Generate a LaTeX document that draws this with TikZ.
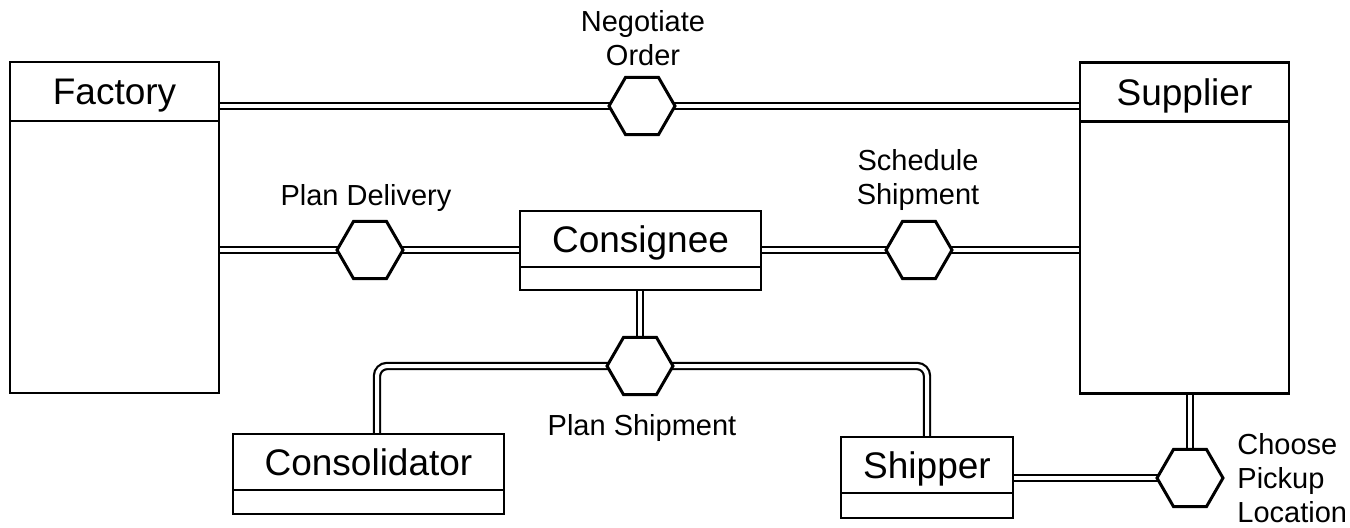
\documentclass[tikz,border=0pt]{standalone}
\usepackage{fontspec}
\setmainfont{Liberation Sans}
\usetikzlibrary{shapes.geometric,positioning,backgrounds}

\tikzset{
  chead/.style={draw, line width=1.4pt, inner sep=0pt, outer sep=0pt, minimum height=28pt,
    font=\fontsize{18.5}{22}\selectfont, text height=13.3pt, text depth=0pt},
  cbody/.style={draw, line width=1.4pt, inner sep=0pt, outer sep=0pt, below=0pt of #1},
  hexa/.style={draw, fill=white, line width=1.5pt, regular polygon,
    regular polygon sides=6, minimum size=33pt, inner sep=0pt, outer sep=0pt},
  assoc/.style={double, line width=1.1pt, double distance=2pt},
  lbl/.style={font=\fontsize{14.5}{17}\selectfont, inner sep=0pt, align=center}
}

\begin{document}
\begin{tikzpicture}[x=0.5pt,y=-0.5pt]
\useasboundingbox (0,0) rectangle (1350,527);

\node[chead, minimum width=104.5pt, minimum height=29.5pt] (fhead) at (114.5,91.5) {Factory};
\node[cbody=fhead, minimum width=104.5pt, minimum height=136pt] (fbody) {};
\node[chead, minimum width=104.5pt, minimum height=29.5pt] (suhead) at (1184.5,92) {Supplier};
\node[cbody=suhead, minimum width=104.5pt, minimum height=136pt] (subody) {};
\node[chead, minimum width=120.5pt] (cnhead) at (640.5,239) {Consignee};
\node[cbody=cnhead, minimum width=120.5pt, minimum height=11.5pt] (cnbody) {};
\node[chead, minimum width=135.5pt] (olhead) at (368.5,462) {Consolidator};
\node[cbody=olhead, minimum width=135.5pt, minimum height=12pt] (olbody) {};
\node[chead, minimum width=86pt] (shhead) at (927,465) {Shipper};
\node[cbody=shhead, minimum width=86pt, minimum height=12.5pt] (shbody) {};

\node[hexa] (neg) at (642,106) {};
\node[hexa] (pdel) at (370,250) {};
\node[hexa] (ssch) at (919,250) {};
\node[hexa] (pship) at (640,366) {};
\node[hexa] (pick) at (1190,478) {};

\begin{scope}[on background layer]
\draw[assoc] (fhead.east |- neg.center) -- (neg.center) -- (suhead.west |- neg.center);
\draw[assoc] (fbody.east |- pdel.center) -- (pdel.center) -- (cnhead.west |- pdel.center);
\draw[assoc] (cnhead.east |- ssch.center) -- (ssch.center) -- (subody.west |- ssch.center);
\draw[assoc] (pship.center |- cnbody.south) -- (pship.center);
\draw[assoc, rounded corners=5pt] (pship.center) -| ([xshift=4.25pt]olhead.north);
\draw[assoc, rounded corners=5pt] (pship.center) -| (shhead.north);
\draw[assoc] (pick.center |- subody.south) -- (pick.center);
\draw[assoc] (shhead.east |- pick.center) -- (pick.center);
\end{scope}

\node[lbl] (negl) at (643,38) {Negotiate\\Order};
\node[lbl, anchor=base] (pdell) at (366,205) {Plan Delivery};
\node[lbl] (sschl) at (918,180) {Schedule\\Shipment};
\node[lbl, anchor=base] (pshipl) at (642,435) {Plan Shipment};
\node[lbl, anchor=west, align=left] (pickl) at (1237,478) {Choose\\Pickup\\Location};
\end{tikzpicture}
\end{document}
